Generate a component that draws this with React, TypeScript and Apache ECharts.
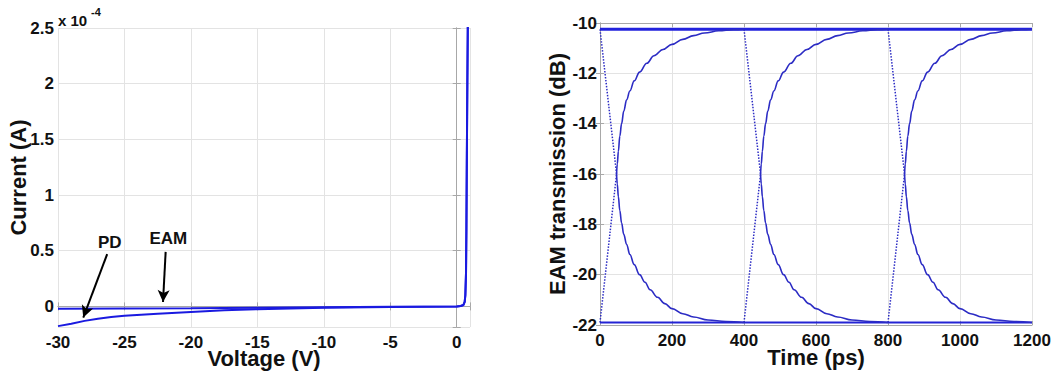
import React, { useEffect, useRef } from "react";
import * as echarts from "echarts";

// ---------- Left panel: I-V curves (current in units of 1e-4 A) ----------
const eamVoltage = [-30, -25, -20, -15, -10, -5, 0, 0.3, 0.5, 0.6, 0.65, 0.7, 0.73, 0.76, 0.8, 0.84];
const eamCurrent = [-0.02, -0.018, -0.016, -0.013, -0.008, -0.004, 0, 0.004, 0.012, 0.04, 0.1, 0.3, 0.7, 1.3, 2.0, 2.6];

const pdVoltage = [-30, -29, -28, -27, -26, -25, -22.5, -20, -17.5, -15, -12.5, -10, -5, 0, 0.3, 0.5, 0.6, 0.65, 0.7, 0.73, 0.76, 0.8, 0.84];
const pdCurrent = [-0.177, -0.155, -0.13, -0.11, -0.095, -0.083, -0.065, -0.05, -0.035, -0.025, -0.018, -0.012, -0.005, 0, 0.004, 0.012, 0.04, 0.1, 0.3, 0.7, 1.3, 2.0, 2.6];

const voltageTicks = [-30, -25, -20, -15, -10, -5, 0];
const currentTicks = [0, 0.5, 1, 1.5, 2, 2.5];

// annotations (data coordinates of the left panel)
const annotationLabels = ["PD", "EAM"];
const annotationText = [[-26.1, 0.57], [-21.7, 0.61]];
const arrowTail = [[-26.3, 0.47], [-21.9, 0.49]];
const arrowHead = [[-28.1, -0.1], [-22.1, 0.04]];

// ---------- Right panel: EAM transmission eye (dB vs ps) ----------
const transitionStarts = [0, 400, 800];
const highLevel = -10.25;
const lowLevel = -21.9;
const crossOffset = 46;
const crossDb = -16.0;
const riseOffsets = [46, 48, 51, 55, 60, 66, 74, 83, 95, 110, 130, 150, 175, 200, 230, 260, 290, 330, 370, 400];
const riseDb = [-16.0, -15.6, -15.1, -14.5, -14.0, -13.5, -13.05, -12.7, -12.3, -11.95, -11.6, -11.3, -11.05, -10.85, -10.65, -10.5, -10.4, -10.31, -10.27, -10.25];
const fallOffsets = [46, 48, 51, 55, 60, 66, 74, 83, 95, 110, 125, 139, 160, 180, 200, 230, 260, 300, 350, 400];
const fallDb = [-16.0, -16.4, -16.9, -17.45, -17.95, -18.4, -18.8, -19.2, -19.6, -20.0, -20.3, -20.6, -20.9, -21.15, -21.35, -21.55, -21.68, -21.8, -21.86, -21.9];
const timeRange = [0, 1200];

const FONT = "'Liberation Sans', Arial, Helvetica, sans-serif";
const AXIS_GRAY = "#a8a8a8";
const GRID_GRAY = "#e3e3e3";
const TEXT = "#111";
const BLUE_L = "#1a1ae0";
const BLUE_R = "#2c2cc4";

const labelStyle = { color: TEXT, fontSize: 17, fontWeight: "bold", fontFamily: FONT };
const nameStyle = { color: TEXT, fontSize: 22, fontWeight: "bold", fontFamily: FONT };
const xLabelStyle = { ...labelStyle, lineHeight: 14 };
const xNameStyle = { ...nameStyle, lineHeight: 18 };

function mainAxisCommon() {
  return {
    type: "value",
    nameMoveOverlap: false,
    axisLine: { show: true, lineStyle: { color: AXIS_GRAY, width: 1 } },
    axisTick: { show: true, inside: true, length: 4, lineStyle: { color: AXIS_GRAY } },
    splitLine: { show: true, lineStyle: { color: GRID_GRAY, width: 1 } },
  };
}
function boxAxis(extra: any) {
  return {
    type: "value",
    axisLine: { show: true, lineStyle: { color: AXIS_GRAY, width: 1 } },
    axisTick: { show: true, inside: true, length: 4, lineStyle: { color: AXIS_GRAY } },
    axisLabel: { show: false },
    splitLine: { show: false },
    ...extra,
  };
}

function pairs(xs: number[], ys: number[]) {
  return xs.map((x, i) => [x, ys[i]]);
}

export default function App() {
  const ref = useRef<HTMLDivElement>(null);
  useEffect(() => {
    if (!ref.current) return;
    const chart = echarts.init(ref.current, null, { renderer: "svg" });

    const eyeSeries: any[] = [];
    eyeSeries.push({
      type: "line", xAxisIndex: 2, yAxisIndex: 2, showSymbol: false, silent: true,
      data: [[timeRange[0], highLevel], [timeRange[1], highLevel]],
      lineStyle: { color: "#2222dd", width: 3 },
    });
    eyeSeries.push({
      type: "line", xAxisIndex: 2, yAxisIndex: 2, showSymbol: false, silent: true,
      data: [[timeRange[0], lowLevel], [timeRange[1], lowLevel]],
      lineStyle: { color: "#2424d4", width: 2 },
    });
    transitionStarts.forEach((s) => {
      eyeSeries.push({
        type: "line", xAxisIndex: 2, yAxisIndex: 2, showSymbol: false, silent: true,
        data: [[s, highLevel], [s + crossOffset, crossDb]],
        lineStyle: { color: BLUE_R, width: 1.5, type: [1.5, 1.5] },
      });
      eyeSeries.push({
        type: "line", xAxisIndex: 2, yAxisIndex: 2, showSymbol: false, silent: true,
        data: [[s, lowLevel], [s + crossOffset, crossDb]],
        lineStyle: { color: BLUE_R, width: 1.5, type: [1.5, 1.5] },
      });
      eyeSeries.push({
        type: "line", xAxisIndex: 2, yAxisIndex: 2, showSymbol: false, silent: true,
        smooth: 0.4, smoothMonotone: "x",
        data: riseOffsets.map((o, i) => [s + o, riseDb[i]]),
        lineStyle: { color: BLUE_R, width: 1.6 },
      });
      eyeSeries.push({
        type: "line", xAxisIndex: 2, yAxisIndex: 2, showSymbol: false, silent: true,
        smooth: 0.4, smoothMonotone: "x",
        data: fallOffsets.map((o, i) => [s + o, fallDb[i]]),
        lineStyle: { color: BLUE_R, width: 1.6 },
      });
    });

    const option: any = {
      animation: false,
      grid: [
        { left: 58, top: 28, width: 412, height: 299, containLabel: false, outerBoundsMode: "none" },
        { left: 600, top: 23, width: 432, height: 302, containLabel: false, outerBoundsMode: "none" },
      ],
      xAxis: [
        {
          ...mainAxisCommon(), gridIndex: 0, position: "bottom",
          min: voltageTicks[0], max: 1, interval: 5,
          axisLabel: { ...xLabelStyle, margin: 8, formatter: (v: number) => (voltageTicks.includes(v) ? String(v) : "") },
          name: "Voltage (V)", nameLocation: "middle", nameGap: 22, nameTextStyle: xNameStyle,
        },
        boxAxis({ gridIndex: 0, position: "top", min: voltageTicks[0], max: 1, interval: 5 }),
        {
          ...mainAxisCommon(), gridIndex: 1, position: "bottom",
          min: timeRange[0], max: timeRange[1], interval: 200,
          axisLabel: { ...xLabelStyle, margin: 8, formatter: (v: number) => String(v) },
          name: "Time (ps)", nameLocation: "middle", nameGap: 23, nameTextStyle: xNameStyle,
        },
        boxAxis({ gridIndex: 1, position: "top", min: timeRange[0], max: timeRange[1], interval: 200 }),
      ],
      yAxis: [
        {
          ...mainAxisCommon(), gridIndex: 0, position: "left",
          min: -0.185, max: 2.5, splitNumber: 5,
          axisLabel: {
            ...labelStyle, margin: 4,
            formatter: (v: number) => {
              const hit = currentTicks.find((t) => Math.abs(t - v) < 1e-6);
              return hit === undefined ? "" : String(hit);
            },
          },
          name: "Current (A)", nameLocation: "middle", nameGap: 29, nameTextStyle: nameStyle,
        },
        boxAxis({ gridIndex: 0, position: "right", min: -0.185, max: 2.5, splitNumber: 5 }),
        {
          ...mainAxisCommon(), gridIndex: 1, position: "left",
          min: -22, max: -10, interval: 2,
          axisLabel: { ...labelStyle, margin: 3 },
          name: "EAM transmission (dB)", nameLocation: "middle", nameGap: 32, nameTextStyle: nameStyle,
        },
        boxAxis({ gridIndex: 1, position: "right", min: -22, max: -10, interval: 2 }),
      ],
      series: [
        {
          type: "line", xAxisIndex: 0, yAxisIndex: 0, showSymbol: false, silent: true,
          data: pairs(pdVoltage, pdCurrent),
          lineStyle: { color: BLUE_L, width: 2 },
        },
        {
          type: "line", xAxisIndex: 0, yAxisIndex: 0, showSymbol: false, silent: true,
          data: pairs(eamVoltage, eamCurrent),
          lineStyle: { color: BLUE_L, width: 2 },
          markLine: {
            silent: true,
            symbol: ["none", "arrow"],
            symbolSize: [9, 12],
            label: { show: false },
            lineStyle: { color: "#000", width: 2, type: "solid" },
            data: annotationLabels.map((_, i) => [
              { coord: arrowTail[i] },
              { coord: arrowHead[i] },
            ]),
          },
        },
        ...eyeSeries,
      ],
    };
    chart.setOption(option);

    const annotationGraphics = annotationLabels.map((n, i) => {
      const p = chart.convertToPixel({ gridIndex: 0 }, annotationText[i]) as number[];
      return {
        type: "text", x: p[0], y: p[1], silent: true,
        style: {
          text: n, fill: TEXT, fontSize: 17, fontWeight: "bold", fontFamily: FONT,
          align: "center", verticalAlign: "middle",
        },
      };
    });
    chart.setOption({
      graphic: [
        {
          type: "text", x: 58, y: 20, silent: true,
          style: { text: "x 10", fill: TEXT, fontSize: 15, fontWeight: "bold", fontFamily: FONT, verticalAlign: "middle" },
        },
        {
          type: "text", x: 91, y: 12, silent: true,
          style: { text: "-4", fill: TEXT, fontSize: 11, fontWeight: "bold", fontFamily: FONT, verticalAlign: "middle" },
        },
        ...annotationGraphics,
      ],
    });
    return () => chart.dispose();
  }, []);
  return (
    <div
      ref={ref}
      style={{ position: "absolute", left: 0, top: 0, width: 1055, height: 371, background: "#fff" }}
    />
  );
}
